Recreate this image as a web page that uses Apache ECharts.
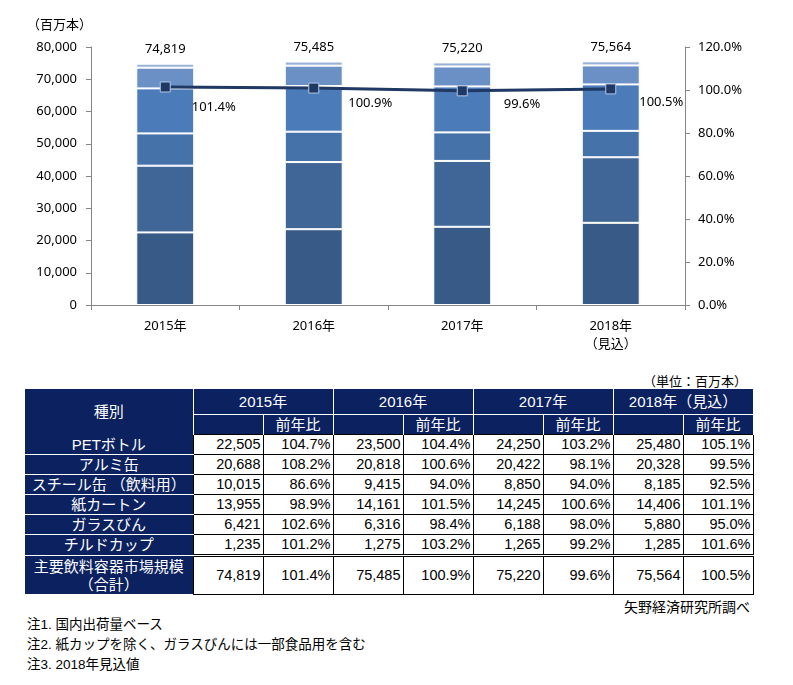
<!DOCTYPE html>
<html>
<head>
<meta charset="utf-8">
<script src="https://cdn.jsdelivr.net/npm/echarts@6/dist/echarts.min.js"></script>
<style>
  html, body { margin:0; padding:0; background:#fff; }
  body { width:793px; height:685px; position:relative; overflow:hidden; font-family:'Liberation Sans', 'Noto Sans CJK JP', sans-serif; }
  #chart { position:absolute; left:0; top:0; width:793px; height:360px; }
  #unit { position:absolute; right:46px; top:371px; font-size:13px; color:#000; white-space:nowrap; }
  #tbl { position:absolute; left:25px; top:389px; border-collapse:collapse; table-layout:fixed; width:728px; font-size:15px; color:#000; }
  #tbl td { padding:0 2px; line-height:17px; white-space:nowrap; overflow:hidden; }
  #tbl tr.h1 td { height:25px; }
  #tbl tr.h2 td { height:19px; }
  #tbl tr.d td { height:19px; }
  #tbl tr.t td { height:35px; }
  #tbl td.hd { background:#0b2160; color:#fff; text-align:center; border-left:1px solid #fff; border-right:1px solid #fff; }
  #tbl td.hd.first { border-left:none; }
  #tbl td.yr { border-bottom:none; }
  #tbl td.blank { border-top:none; }
  #tbl td.yoyh { border-top:1px solid #fff; border-left:1px solid #fff; }
  #tbl td.nm { background:#0b2160; color:#fff; text-align:center; border-bottom:1px solid #fff; border-right:1px solid #000; border-left:none; }
  #tbl td.v { background:#fff; text-align:right; border:1px solid #000; font-size:14.5px; }
  #tbl tr.t td { border-top:3px double #000; }
  #tbl tr.t td.nm { border-top:3px double #0b2160; border-bottom:none; line-height:18px; padding-top:1px; }
  #src { position:absolute; right:43px; top:596px; font-size:14px; white-space:nowrap; }
  #notes { position:absolute; left:27px; top:615px; font-size:13.5px; line-height:20px; white-space:nowrap; }
</style>
</head>
<body>
<div id="chart"></div>
<div id="unit"></div>
<table id="tbl"></table>
<div id="src"></div>
<div id="notes"></div>
<script>
// ---- data ----
const yearLabels = ['2015年', '2016年', '2017年', '2018年\n（見込）'];
const tableYears = ['2015年', '2016年', '2017年', '2018年（見込）'];
const typeNames = ['PETボトル', 'アルミ缶', 'スチール缶 （飲料用）', '紙カートン', 'ガラスびん', 'チルドカップ'];
const petBottle = [22505, 23500, 24250, 25480];
const petBottleYoY = [104.7, 104.4, 103.2, 105.1];
const aluminumCan = [20688, 20818, 20422, 20328];
const aluminumCanYoY = [108.2, 100.6, 98.1, 99.5];
const steelCan = [10015, 9415, 8850, 8185];
const steelCanYoY = [86.6, 94.0, 94.0, 92.5];
const paperCarton = [13955, 14161, 14245, 14406];
const paperCartonYoY = [98.9, 101.5, 100.6, 101.1];
const glassBottle = [6421, 6316, 6188, 5880];
const glassBottleYoY = [102.6, 98.4, 98.0, 95.0];
const chilledCup = [1235, 1275, 1265, 1285];
const chilledCupYoY = [101.2, 103.2, 99.2, 101.6];
const totalMarket = [74819, 75485, 75220, 75564];
const totalMarketYoY = [101.4, 100.9, 99.6, 100.5];
const totalName = '主要飲料容器市場規模<br>（合計）';
const leftTicks = { min: 0, max: 80000, interval: 10000 };
const rightTicks = { min: 0, max: 1.2, interval: 0.2 };
const unitLabel = '（百万本）';
const tableUnit = '（単位：百万本）';
const yoyHeader = '前年比';
const firstHeader = '種別';
const sourceText = '矢野経済研究所調べ';
const notes = ['注1. 国内出荷量ベース', '注2. 紙カップを除く、ガラスびんには一部食品用を含む', '注3. 2018年見込値'];

// ---- styles ----
const FONT = "'Noto Sans', 'Noto Sans CJK JP', sans-serif";
const segColors = ['#385a86', '#3f6697', '#4672aa', '#4b7bb8', '#6a90c6', '#98b1d7'];
const ratioLabelOffsets = [[21, 20], [29, 15], [36, 13], [23, 13]];

const seriesValues = [petBottle, aluminumCan, steelCan, paperCarton, glassBottle, chilledCup];
const seriesYoY = [petBottleYoY, aluminumCanYoY, steelCanYoY, paperCartonYoY, glassBottleYoY, chilledCupYoY];

const fmt = v => v.toLocaleString('en-US');
const pct = v => v.toFixed(1) + '%';

const chart = echarts.init(document.getElementById('chart'), null, { renderer: 'canvas' });
const axisGray = '#868686';

const barSeries = seriesValues.map((arr, i) => ({
  name: typeNames[i],
  type: 'bar',
  stack: 'total',
  barWidth: '39%',
  data: arr,
  itemStyle: { color: segColors[i], borderColor: '#fff', borderWidth: 1 },
  label: i === seriesValues.length - 1 ? {
    show: true, position: 'top', distance: 8, color: '#000', fontSize: 13, fontFamily: FONT,
    formatter: p => fmt(totalMarket[p.dataIndex])
  } : { show: false },
  emphasis: { disabled: true }
}));

const lineSeries = {
  name: '前年比',
  type: 'line',
  yAxisIndex: 1,
  z: 10,
  symbol: 'rect',
  symbolSize: 10,
  lineStyle: { color: '#1f3864', width: 3 },
  itemStyle: { color: '#203864', borderColor: '#b4c7e7', borderWidth: 1 },
  data: totalMarketYoY.map((v, i) => ({ value: v / 100, label: { offset: ratioLabelOffsets[i] } })),
  label: {
    show: true, position: 'right', distance: 0, color: '#000', fontSize: 13, fontFamily: FONT,
    formatter: p => pct(p.value * 100)
  },
  emphasis: { disabled: true }
};

chart.setOption({
  animation: false,
  textStyle: { fontFamily: FONT },
  title: { text: unitLabel, left: 22, top: 13, textStyle: { fontSize: 13, fontWeight: 'normal', color: '#000', fontFamily: "'Noto Sans CJK JP', sans-serif" } },
  grid: { left: 91, right: 108, top: 47, bottom: 55 },
  xAxis: {
    type: 'category', data: yearLabels,
    axisLine: { lineStyle: { color: axisGray } },
    axisTick: { show: true, length: 5, lineStyle: { color: axisGray } },
    axisLabel: { color: '#000', fontSize: 13, margin: 12, lineHeight: 18, fontFamily: FONT }
  },
  yAxis: [
    {
      type: 'value', min: leftTicks.min, max: leftTicks.max, interval: leftTicks.interval,
      axisLine: { show: true, lineStyle: { color: axisGray } },
      axisTick: { show: true, length: 5, lineStyle: { color: axisGray } },
      splitLine: { show: false },
      axisLabel: { color: '#000', fontSize: 13, margin: 14, formatter: v => fmt(v) }
    },
    {
      type: 'value', min: rightTicks.min, max: rightTicks.max, interval: rightTicks.interval,
      axisLine: { show: true, lineStyle: { color: axisGray } },
      axisTick: { show: true, length: 5, lineStyle: { color: axisGray } },
      splitLine: { show: false },
      axisLabel: { color: '#000', fontSize: 13, margin: 13, formatter: v => pct(v * 100) }
    }
  ],
  series: [...barSeries, lineSeries]
});

// ---- table ----
document.getElementById('unit').textContent = tableUnit;
document.getElementById('src').textContent = sourceText;
document.getElementById('notes').innerHTML = notes.map(n => '<div>' + n + '</div>').join('');

let html = '<colgroup><col style="width:168px">' + '<col style="width:70px">'.repeat(8) + '</colgroup>';
html += '<tr class="h1"><td class="hd first" rowspan="2">' + firstHeader + '</td>' +
  tableYears.map(y => '<td class="hd yr" colspan="2">' + y + '</td>').join('') + '</tr>';
html += '<tr class="h2">' + tableYears.map(() => '<td class="hd blank"></td><td class="hd yoyh">' + yoyHeader + '</td>').join('') + '</tr>';
seriesValues.forEach((arr, i) => {
  html += '<tr class="d"><td class="nm">' + typeNames[i] + '</td>' +
    arr.map((v, j) => '<td class="v">' + fmt(v) + '</td><td class="v">' + pct(seriesYoY[i][j]) + '</td>').join('') + '</tr>';
});
html += '<tr class="t"><td class="nm">' + totalName + '</td>' +
  totalMarket.map((v, j) => '<td class="v">' + fmt(v) + '</td><td class="v">' + pct(totalMarketYoY[j]) + '</td>').join('') + '</tr>';
document.getElementById('tbl').innerHTML = html;
</script>
</body>
</html>
